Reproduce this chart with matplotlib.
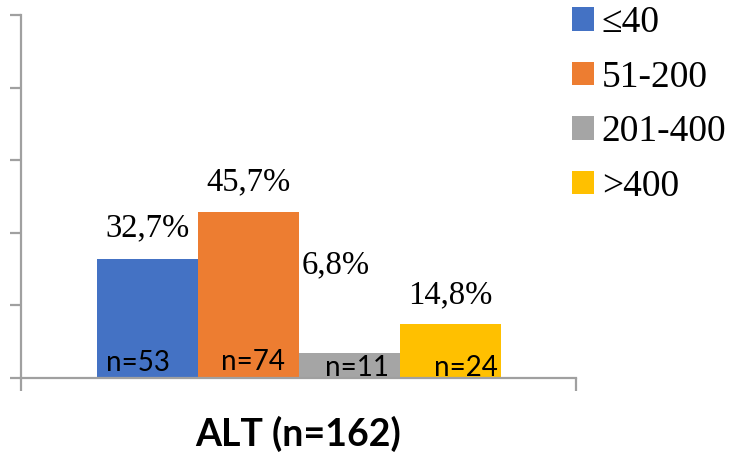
import matplotlib
matplotlib.use("Agg")
import matplotlib.pyplot as plt
from matplotlib.patches import Patch

# Data
categories = ["\u226440", "51-200", "201-400", ">400"]
percent = [32.7, 45.7, 6.8, 14.8]
counts = [53, 74, 11, 24]
total = 162
colors = ["#4472C4", "#ED7D31", "#A5A5A5", "#FFC000"]

# Label offsets in pixels (dx, dy) for the percentage and count labels
pct_offsets = [(0, 31), (0, 30), (-14, 88), (0, 29)]
n_offsets = [(-10, 15), (5, 16), (8, 10), (15, 10)]

W, H, DPI = 733, 455, 100
fig = plt.figure(figsize=(W / DPI, H / DPI), dpi=DPI)
ax = fig.add_axes([21 / W, (H - 378) / H, (576 - 21) / W, (378 - 15) / H])

x = list(range(len(categories)))
ax.bar(x, percent, width=1.0, color=colors, zorder=2)

ax.set_ylim(0, 100)
ax.set_xlim(-1.252, -1.252 + 555 / 101)

axis_color = "#A0A0A0"
for s in ["top", "right"]:
    ax.spines[s].set_visible(False)
for s in ["left", "bottom"]:
    ax.spines[s].set_color(axis_color)
    ax.spines[s].set_linewidth(1.6)

ax.set_yticks([0, 20, 40, 60, 80, 100])
ax.set_yticklabels([])
ax.tick_params(axis="y", direction="out", length=8, width=1.6, color=axis_color)
xl = ax.get_xlim()
ax.set_xticks([xl[0], xl[1]])
ax.set_xticklabels([])
ax.tick_params(axis="x", direction="out", length=9.5, width=1.6, color=axis_color)

serif = ["Liberation Serif", "DejaVu Serif"]
for xi, p, (dx, dy) in zip(x, percent, pct_offsets):
    ax.annotate(f"{p:.1f}%".replace(".", ","), xy=(xi, p), xytext=(dx, dy),
                textcoords="offset pixels", ha="center", va="center",
                fontsize=23.5, family=serif, color="black")

for xi, n, (dx, dy) in zip(x, counts, n_offsets):
    ax.annotate(f"n={n}", xy=(xi, 0), xytext=(dx, dy),
                textcoords="offset pixels", ha="center", va="center",
                fontsize=20, family=["Lato", "DejaVu Sans"], color="black",
                zorder=3)

fig.text(298 / W, 1 - 434 / H, f"ALT (n={total})", ha="center", va="center",
         fontsize=27, fontweight="bold", family=["Lato", "DejaVu Sans"])

handles = [Patch(facecolor=c, edgecolor="none") for c in colors]
leg = fig.legend(handles, categories, loc="upper left",
                 bbox_to_anchor=(572 / W, 1 - 6 / H), frameon=False,
                 prop={"family": serif, "size": 27},
                 handlelength=0.59, handleheight=0.59, handletextpad=0.2,
                 labelspacing=0.53, borderpad=0, borderaxespad=0)

fig.savefig("out.png", dpi=DPI)
